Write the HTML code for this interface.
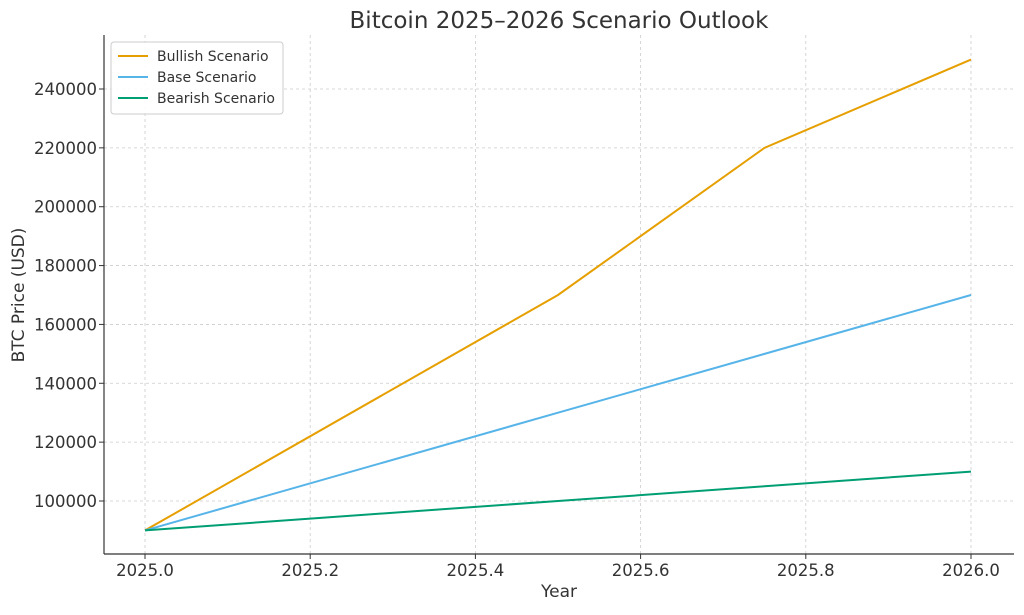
<!DOCTYPE html>
<html><head><meta charset="utf-8"><style>
body{margin:0;background:#fff;}
svg{font-family:"DejaVu Sans","Liberation Sans",sans-serif;}
</style></head><body>
<svg id="chart" width="1024" height="610">
<text x="559" y="28" font-size="23" fill="#333" text-anchor="middle">Bitcoin 2025–2026 Scenario Outlook</text>
<text x="559" y="597" font-size="17" fill="#333" text-anchor="middle">Year</text>
<text transform="translate(24,295) rotate(-90)" font-size="17" fill="#333" text-anchor="middle">BTC Price (USD)</text>
<g id="grid"></g><g id="ticks"></g><g id="lines"></g>
<line x1="104" y1="35" x2="104" y2="554" stroke="#333" stroke-width="1.2"/>
<line x1="104" y1="554" x2="1014" y2="554" stroke="#333" stroke-width="1.2"/>
<g>
<rect x="111" y="42" width="172" height="72" rx="3" fill="#fff" fill-opacity="0.9" stroke="#ccc"/>
<g><line x1="118" y1="56" x2="148" y2="56" stroke="#E69F00" stroke-width="2"/><text x="157" y="61" font-size="14" fill="#333">Bullish Scenario</text></g>
<g><line x1="118" y1="77" x2="148" y2="77" stroke="#56B4E9" stroke-width="2"/><text x="157" y="82" font-size="14" fill="#333">Base Scenario</text></g>
<g><line x1="118" y1="98" x2="148" y2="98" stroke="#009E73" stroke-width="2"/><text x="157" y="103" font-size="14" fill="#333">Bearish Scenario</text></g>
</g>
</svg>
<script>
const years=[2025.0,2025.5,2025.75,2026.0];
const bullish=[90000,170000,220000,250000];
const base=[90000,130000,150000,170000];
const bearish=[90000,100000,105000,110000];
const xTicks=[2025.0,2025.2,2025.4,2025.6,2025.8,2026.0];
const yTicks=[100000,120000,140000,160000,180000,200000,220000,240000];
const NS="http://www.w3.org/2000/svg";
function xs(v){return 145+(v-2025)*826;}
function ys(v){return 501-(v-100000)*(412/140000);}
function mk(t,a,p){const e=document.createElementNS(NS,t);for(const k in a)e.setAttribute(k,a[k]);p.appendChild(e);return e;}
const grid=document.getElementById('grid'),ticks=document.getElementById('ticks'),lines=document.getElementById('lines');
xTicks.forEach(v=>{const x=xs(v);
const g=mk('line',{x1:x,x2:x,y1:35,y2:554,stroke:'#ccc','stroke-dasharray':'3,3','stroke-width':0.8},grid);


mk('line',{x1:x,x2:x,y1:554,y2:559,stroke:'#333'},ticks);
const t=mk('text',{x:x,y:576,'font-size':16.5,fill:'#333','text-anchor':'middle'},ticks);t.textContent=v.toFixed(1);

});
yTicks.forEach(v=>{const y=ys(v);
const g=mk('line',{x1:104,x2:1014,y1:y,y2:y,stroke:'#ccc','stroke-dasharray':'3,3','stroke-width':0.8},grid);


mk('line',{x1:99,x2:104,y1:y,y2:y,stroke:'#333'},ticks);
const t=mk('text',{x:97,y:y+6,'font-size':16.5,fill:'#333','text-anchor':'end'},ticks);t.textContent=v;

});
[[bullish,'#E69F00','bullish-line'],[base,'#56B4E9','base-line'],[bearish,'#009E73','bearish-line']].forEach(([s,c,n])=>{
const p=mk('polyline',{points:years.map((y,i)=>xs(y)+','+ys(s[i])).join(' '),fill:'none',stroke:c,'stroke-width':2},lines);

});
</script>
</body></html>
